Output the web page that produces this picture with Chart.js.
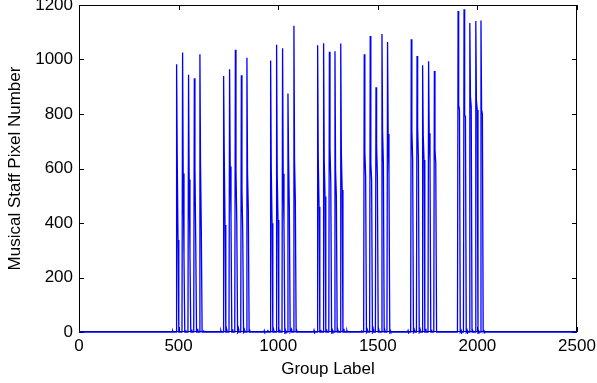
<!DOCTYPE html>
<html>
<head>
<meta charset="utf-8">
<script src="https://cdn.jsdelivr.net/npm/chart.js@4/dist/chart.umd.min.js"></script>
<style>
  html, body { margin: 0; padding: 0; background: #fff; }
  #wrap { width: 597px; height: 383px; }
</style>
</head>
<body>
<div id="wrap"><canvas id="chart" width="597" height="383"></canvas></div>
<script>
// group label of each spike (7 groups of 5)
const spikeX = [
    490, 520, 550, 579, 607,
    726, 756, 785, 815, 843,
    962, 992, 1022, 1049, 1079,
    1198, 1228, 1257, 1285, 1314,
    1432, 1462, 1491, 1521, 1549,
    1668, 1697, 1725, 1755, 1784,
    1903, 1933, 1962, 1992, 2018
];
// peak value of each spike
const spikeTop = [
    983, 1026, 944, 931, 1019,
    939, 964, 1036, 942, 1006,
    996, 1054, 1041, 875, 1124,
    1052, 1060, 1028, 1030, 1059,
    1019, 1086, 898, 1094, 1064,
    1074, 1013, 979, 994, 958,
    1178, 1184, 1134, 1141, 1143
];
// shoulder values on the way down
const spikeMid = [
    646, 582, 560, 603, 617,
    661, 607, 595, 521, 586,
    605, 576, 581, 643, 629,
    640, 631, 674, 594, 656,
    662, 619, 683, 733, 727,
    739, 751, 723, 729, 670,
    833, 796, 865, 851, 815
];
const spikeLow = [
    338, 276, 290, 334, 371,
    393, 420, 411, 364, 448,
    399, 411, 393, 451, 481,
    460, 497, 546, 497, 521,
    570, 558, 570, 619, 582,
    631, 631, 631, 619, 619,
    815, 790, 826, 815, 800
];
// small bumps along the baseline
const bumpX = [470, 535, 566, 596, 625, 712, 742, 771, 800, 830, 858, 930, 948, 978, 1008, 1036, 1066, 1094,
               1180, 1214, 1243, 1272, 1300, 1330, 1345, 1418, 1447, 1477, 1506, 1535, 1563,
               1652, 1683, 1712, 1741, 1770, 1800, 1918, 1948, 1977, 2005, 2034];
const bumpY = [4, 6, 9, 12, 6, 5, 7, 10, 12, 8, 6, 5, 8, 6, 9, 7, 10, 6,
               6, 8, 10, 7, 9, 12, 5, 6, 8, 11, 9, 10, 5,
               5, 8, 9, 12, 8, 4, 6, 7, 6, 5, 4];

const xTicks = [0, 500, 1000, 1500, 2000, 2500];
const yTicks = [0, 200, 400, 600, 800, 1000, 1200];

// build the line: baseline, bumps, spikes
const points = [{x: 0, y: 0}, {x: 2500, y: 0}];
bumpX.forEach((x, i) => {
    points.push({x: x - 2, y: 0}, {x: x, y: bumpY[i]}, {x: x + 2, y: 0});
});
spikeX.forEach((x, i) => {
    points.push({x: x - 3, y: 0});
    points.push({x: x, y: spikeTop[i]});
    points.push({x: x + 3, y: spikeMid[i]});
    points.push({x: x + 7, y: spikeLow[i]});
    points.push({x: x + 11, y: 0});
});
points.sort((a, b) => a.x - b.x);

Chart.defaults.font.family = '"Liberation Sans", Arial, sans-serif';
Chart.defaults.font.size = 17;
Chart.defaults.color = '#000';

// box and inward ticks, matlab style
const boxPlugin = {
    id: 'box',
    beforeDatasetsDraw(chart) {
        const {ctx, chartArea: a, scales} = chart;
        ctx.save();
        ctx.strokeStyle = '#000';
        ctx.lineWidth = 1;
        ctx.strokeRect(a.left + 0.5, a.top + 0.5, a.right - a.left - 1, a.bottom - a.top - 1);
        ctx.beginPath();
        xTicks.forEach(v => {
            const px = Math.round(scales.x.getPixelForValue(v)) + 0.5;
            ctx.moveTo(px, a.bottom); ctx.lineTo(px, a.bottom - 5);
            ctx.moveTo(px, a.top); ctx.lineTo(px, a.top + 5);
        });
        yTicks.forEach(v => {
            const py = Math.round(scales.y.getPixelForValue(v)) + 0.5;
            ctx.moveTo(a.left, py); ctx.lineTo(a.left + 5, py);
            ctx.moveTo(a.right, py); ctx.lineTo(a.right - 5, py);
        });
        ctx.stroke();
        ctx.restore();
    }
};

new Chart(document.getElementById('chart'), {
    type: 'scatter',
    data: {
        datasets: [{
            data: points,
            showLine: true,
            borderColor: '#0000ff',
            borderWidth: 1.3,
            pointRadius: 0,
            clip: 2
        }]
    },
    options: {
        responsive: false,
        animation: false,
        devicePixelRatio: 1,
        layout: { padding: { top: 5, right: 20, left: 5, bottom: 0 } },
        plugins: { legend: { display: false }, tooltip: { enabled: false } },
        scales: {
            x: {
                type: 'linear',
                min: 0, max: 2500,
                afterBuildTicks: s => { s.ticks = xTicks.map(v => ({value: v})); },
                afterFit: s => { s.height = 51; s.paddingLeft = 0; s.paddingRight = 0; },
                grid: { display: false, drawTicks: false },
                border: { display: false },
                ticks: { padding: 4, maxRotation: 0, callback: v => String(v) },
                title: { display: true, text: 'Group Label', padding: { top: 0, bottom: 3 } }
            },
            y: {
                min: 0, max: 1200,
                afterBuildTicks: s => { s.ticks = yTicks.map(v => ({value: v})); },
                afterFit: s => { s.width = 74; s.paddingTop = 0; s.paddingBottom = 0; },
                grid: { display: false, drawTicks: false },
                border: { display: false },
                ticks: { padding: 6, callback: v => String(v) },
                title: { display: true, text: 'Musical Staff Pixel Number', padding: { top: 0, bottom: 0 } }
            }
        }
    },
    plugins: [boxPlugin]
});
</script>
</body>
</html>
